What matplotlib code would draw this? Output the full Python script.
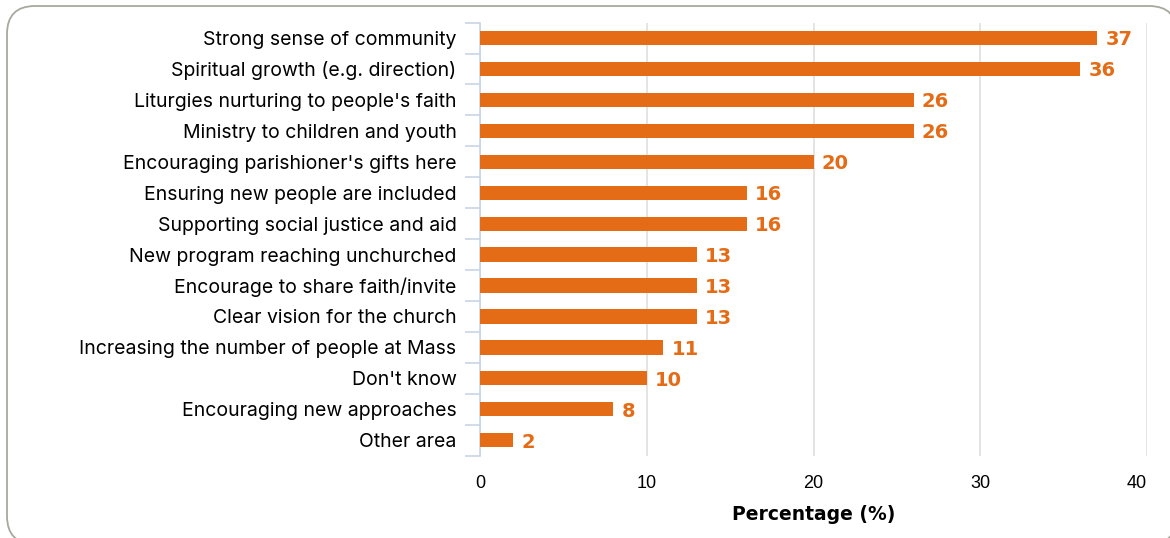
import matplotlib
matplotlib.use("Agg")
import matplotlib.pyplot as plt
from matplotlib.patches import FancyBboxPatch

categories = [
    "Strong sense of community",
    "Spiritual growth (e.g. direction)",
    "Liturgies nurturing to people's faith",
    "Ministry to children and youth",
    "Encouraging parishioner's gifts here",
    "Ensuring new people are included",
    "Supporting social justice and aid",
    "New program reaching unchurched",
    "Encourage to share faith/invite",
    "Clear vision for the church",
    "Increasing the number of people at Mass",
    "Don't know",
    "Encouraging new approaches",
    "Other area",
]
values = [37, 36, 26, 26, 20, 16, 16, 13, 13, 13, 11, 10, 8, 2]
xticks = [0, 10, 20, 30, 40]

orange = "#E56C17"

fig = plt.figure(figsize=(11.7, 5.38), dpi=100)
ax = fig.add_axes([480/1170, 0.153, 667/1170, 0.805])

# rounded frame around the whole chart (runs off the bottom/right edge a bit)
W, H = 1170, 538
frame = FancyBboxPatch((7/W, -6/H), 1170/W, 538/H, boxstyle="round,pad=0,rounding_size=0.024",
                       transform=fig.transFigure, facecolor="white", edgecolor="#a8a8a0",
                       linewidth=1.3, zorder=-1, mutation_aspect=W/H)
fig.patches.append(frame)

ypos = list(range(len(categories)))
ax.barh(ypos, values, height=0.46, color=orange, zorder=3)

for y, v in zip(ypos, values):
    ax.text(v + 0.5, y + 0.06, str(v), va="center", ha="left", color=orange,
            fontsize=14, fontweight="bold", family="DejaVu Sans")

ax.set_ylim(len(categories) - 0.5, -0.5)
ax.set_xlim(0, 40)
ax.set_xticks(xticks)
ax.set_xticklabels([str(t) for t in xticks], fontsize=13, family="Liberation Sans")
ax.get_xticklabels()[-1].set_ha("right")
ax.tick_params(axis="x", length=0, pad=14)

# category labels, ticks at row boundaries
ax.set_yticks(ypos)
ax.set_yticklabels(categories, fontsize=14, family="Inter")
ax.tick_params(axis="y", length=0, pad=17)
ax.set_yticks([i - 0.5 for i in range(len(categories) + 1)], minor=True)
ax.tick_params(axis="y", which="minor", length=11, color="#c9d4e6", width=1.2)

ax.grid(axis="x", color="#e2e2e2", linewidth=1.3, zorder=0)
for s in ["top", "right", "bottom"]:
    ax.spines[s].set_visible(False)
ax.spines["left"].set_color("#c9d4e6")
ax.spines["left"].set_linewidth(1.2)

ax.set_xlabel("Percentage (%)", fontsize=13.5, fontweight="bold", labelpad=9)

fig.savefig("out.png", dpi=100)
